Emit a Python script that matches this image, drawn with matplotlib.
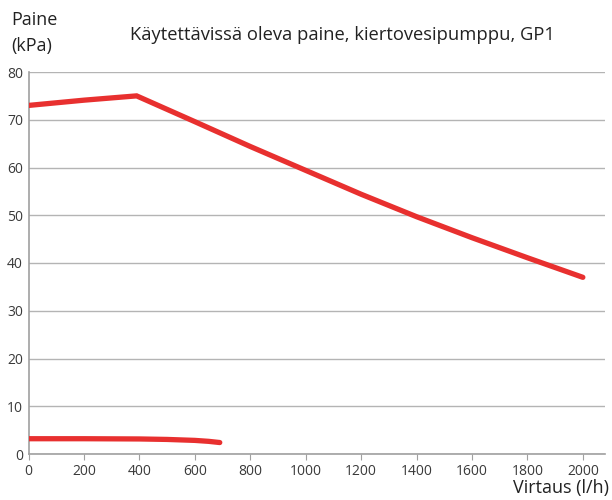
import matplotlib
matplotlib.use("Agg")
import matplotlib.pyplot as plt

# Available pressure curve (upper) and pump loss curve (lower)
flow_upper = [0, 200, 390, 600, 800, 1000, 1200, 1400, 1600, 1800, 2000]
pressure_upper = [73.0, 74.1, 75.0, 69.6, 64.4, 59.4, 54.4, 49.7, 45.3, 41.1, 37.0]

flow_lower = [0, 200, 400, 500, 600, 650, 690]
pressure_lower = [3.2, 3.2, 3.15, 3.05, 2.85, 2.65, 2.4]

x_ticks = [0, 200, 400, 600, 800, 1000, 1200, 1400, 1600, 1800, 2000]
y_ticks = [0, 10, 20, 30, 40, 50, 60, 70, 80]

plt.rcParams['font.family'] = ['Open Sans', 'DejaVu Sans']

fig = plt.figure(figsize=(6.12, 5.0), dpi=100)
ax = fig.add_axes([0.0466, 0.092, 0.942, 0.764])

red = '#e8302f'
ax.plot(flow_upper, pressure_upper, color=red, lw=3.8, solid_capstyle='round',
        solid_joinstyle='miter', zorder=3)
ax.plot(flow_lower, pressure_lower, color=red, lw=3.8, solid_capstyle='round', zorder=3)

ax.set_xlim(0, 2080)
ax.set_ylim(0, 80)
ax.set_xticks(x_ticks)
ax.set_yticks(y_ticks)

grid_c = '#b4b4b4'
ax.grid(axis='y', color=grid_c, lw=1.0, zorder=1)
for s in ['top', 'right']:
    ax.spines[s].set_visible(False)
for s in ['left', 'bottom']:
    ax.spines[s].set_color('#a0a0a0')
    ax.spines[s].set_linewidth(1.2)

ax.tick_params(axis='x', colors='#a0a0a0', labelcolor='#3a3a3a', labelsize=10,
               length=4, direction='out', pad=3)
ax.tick_params(axis='y', colors='#a0a0a0', labelcolor='#3a3a3a', labelsize=10,
               length=0, pad=4)

fig.text(0.019, 0.96, 'Paine', fontsize=13, color='#222222', va='center', ha='left')
fig.text(0.019, 0.908, '(kPa)', fontsize=13, color='#222222', va='center', ha='left')
fig.text(0.559, 0.93, 'Käytettävissä oleva paine, kiertovesipumppu, GP1', fontsize=13.2,
         color='#222222', va='center', ha='center')
fig.text(0.995, 0.006, 'Virtaus (l/h)', fontsize=13, color='#222222', va='bottom', ha='right')

fig.savefig('out.png', dpi=100)
